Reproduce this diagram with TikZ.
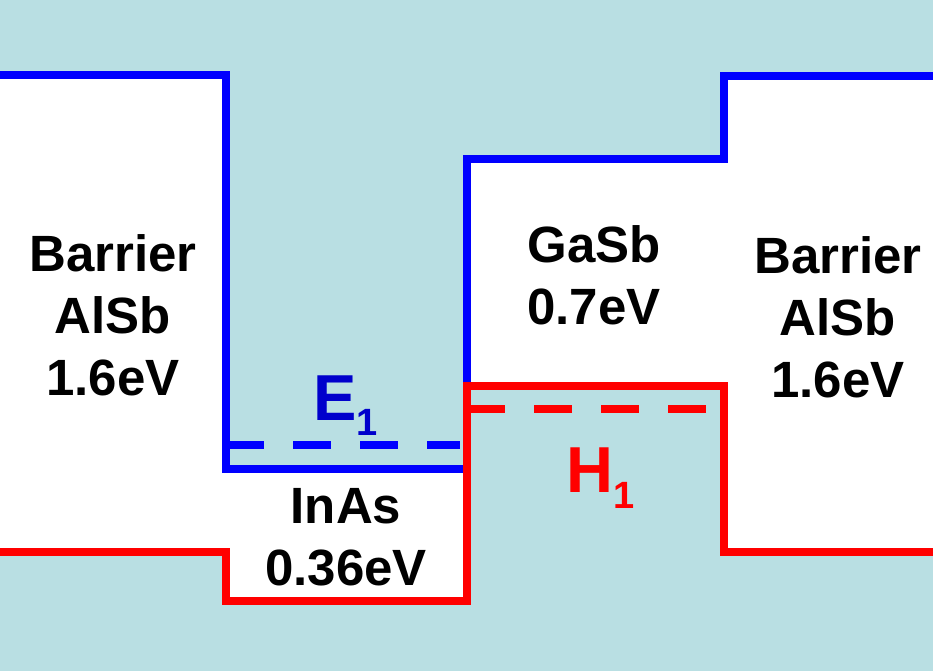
\documentclass[tikz,border=0pt]{standalone}
\usepackage{fontspec}
\setmainfont{Liberation Sans}
\usepackage{xcolor}
\usetikzlibrary{positioning}

\definecolor{bgteal}{RGB}{185,223,227}
\definecolor{eblue}{RGB}{0,0,204}

\begin{document}
\begin{tikzpicture}[x=1pt, y=-1pt,
  cband/.style={draw=blue, line width=8pt},
  vband/.style={draw=red, line width=8pt},
  level/.style={line width=8pt, dash pattern=on 38pt off 29pt},
  layer/.style={inner sep=0pt, align=center, font=\fontsize{51}{62}\selectfont\bfseries},
  sublabel/.style={inner sep=0pt, anchor=base west, font=\fontsize{65}{65}\selectfont\bfseries}
]
\fill[bgteal] (0,0) rectangle (933,671);
\useasboundingbox (0,0) rectangle (933,671);

% band gaps of the layers
\fill[white] (0,75) rectangle (226,552);
\fill[white] (226,469) rectangle (467,601);
\fill[white] (467,159) rectangle (724,386);
\fill[white] (724,76) rectangle (933,552);

% conduction and valence band edges
\draw[cband] (0,75) -| (226,469) -| (467,159) -| (724,76) -- (933,76);
\draw[vband] (0,552) -| (226,601) -| (467,386) -| (724,552) -- (933,552);

% confined levels
\draw[level, blue] (226,445) -- (460,445);
\draw[level, red] (467,409) -- (720,409);

\node[layer] (barL) at (113,315) {Barrier\\AlSb\\1.6eV};
\node[layer] (inas) at (346,537) {InAs\\0.36eV};
\node[layer] (gasb) at (594,275) {GaSb\\0.7eV};
\node[layer] (barR) at (838,317) {Barrier\\AlSb\\1.6eV};

\node[sublabel, text=eblue] (eone) at (313,420) {E\raisebox{-15pt}{\fontsize{38}{38}\selectfont 1}};
\node[sublabel, text=red] (hone) at (566,492) {H\raisebox{-16pt}{\fontsize{38}{38}\selectfont 1}};
\end{tikzpicture}
\end{document}
